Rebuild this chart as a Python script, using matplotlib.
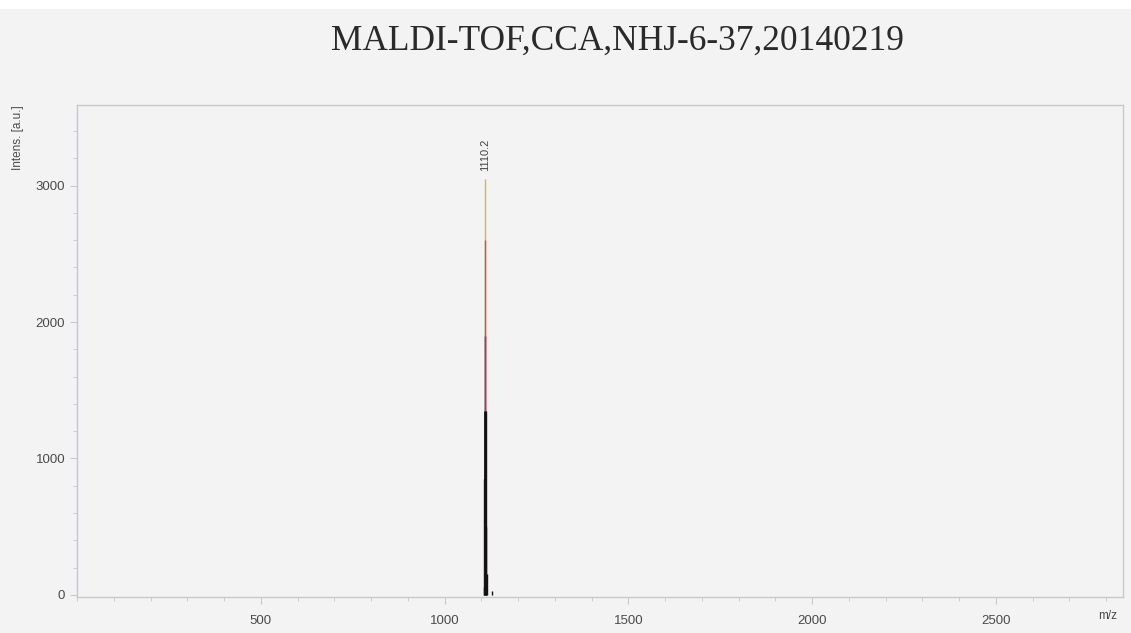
import matplotlib
matplotlib.use("Agg")
import matplotlib.pyplot as plt
from matplotlib.ticker import MultipleLocator

# isotope cluster around the main ion, stick heights in a.u.
peak_mz = [1107.2, 1108.2, 1109.2, 1110.2, 1111.2, 1112.2, 1113.2, 1114.2, 1130.0]
peak_int = [60, 850, 1900, 3050, 2600, 1350, 500, 150, 25]
peak_label = "1110.2"

title = "MALDI-TOF,CCA,NHJ-6-37,20140219"
y_ticks = [0, 1000, 2000, 3000]
x_ticks = [500, 1000, 1500, 2000, 2500]

bg = "#f3f3f3"
axis_col = "#c9c9c9"
text_col = "#4a4a4a"

fig = plt.figure(figsize=(11.31, 6.33), dpi=100, facecolor=bg)
# white strip along the very top
fig.patches.append(plt.Rectangle((0, 0.985), 1, 0.015, transform=fig.transFigure,
                                 facecolor="white", edgecolor="none"))

ax = fig.add_axes([0.0681, 0.057, 0.9248, 0.777])
ax.set_facecolor(bg)

colors = ["#111111"] * len(peak_mz)
colors[3] = "#d9b24a"
colors[4] = "#c0506a"
for mz, h, c in zip(peak_mz, peak_int, colors):
    ax.vlines(mz, 0, h, color=c, lw=1.0)
# the lower, overlapping part of the cluster looks dark
ax.vlines(peak_mz[3], 0, peak_int[2], color="#8a3f9a", lw=1.0)
ax.vlines(peak_mz[3], 0, peak_int[5], color="#111111", lw=2.0)

ax.text(peak_mz[3], peak_int[3] + 60, peak_label, rotation=90, ha="center", va="bottom",
        fontsize=8, color="#444444", family="Liberation Sans")

ax.set_xlim(0, 2846)
ax.set_ylim(-15, 3590)
ax.set_xticks(x_ticks)
ax.set_yticks(y_ticks)
ax.xaxis.set_minor_locator(MultipleLocator(100))
ax.yaxis.set_minor_locator(MultipleLocator(200))
ax.tick_params(which="major", length=5, color=axis_col, labelcolor=text_col, labelsize=9.5)
ax.tick_params(which="minor", length=3, color=axis_col)
ax.tick_params(axis="x", pad=8)
for lab in ax.get_xticklabels() + ax.get_yticklabels():
    lab.set_family("Liberation Sans")

for name, sp in ax.spines.items():
    sp.set_color(axis_col)
    sp.set_linewidth(1.0)
ax.spines["left"].set_color("#c8c4d8")

fig.text(0.0159, 0.834, "Intens. [a.u.]", rotation=90, ha="center", va="top",
         fontsize=8.5, color=text_col, family="Liberation Sans")
fig.text(0.979, 0.018, "m/z", ha="center", va="bottom",
         fontsize=8.5, color=text_col, family="Liberation Sans")

fig.text(0.546, 0.935, title, ha="center", va="center",
         fontsize=25.5, color="#2a2a2a", family="Liberation Serif")

fig.savefig("out.png", dpi=100, facecolor=bg)
